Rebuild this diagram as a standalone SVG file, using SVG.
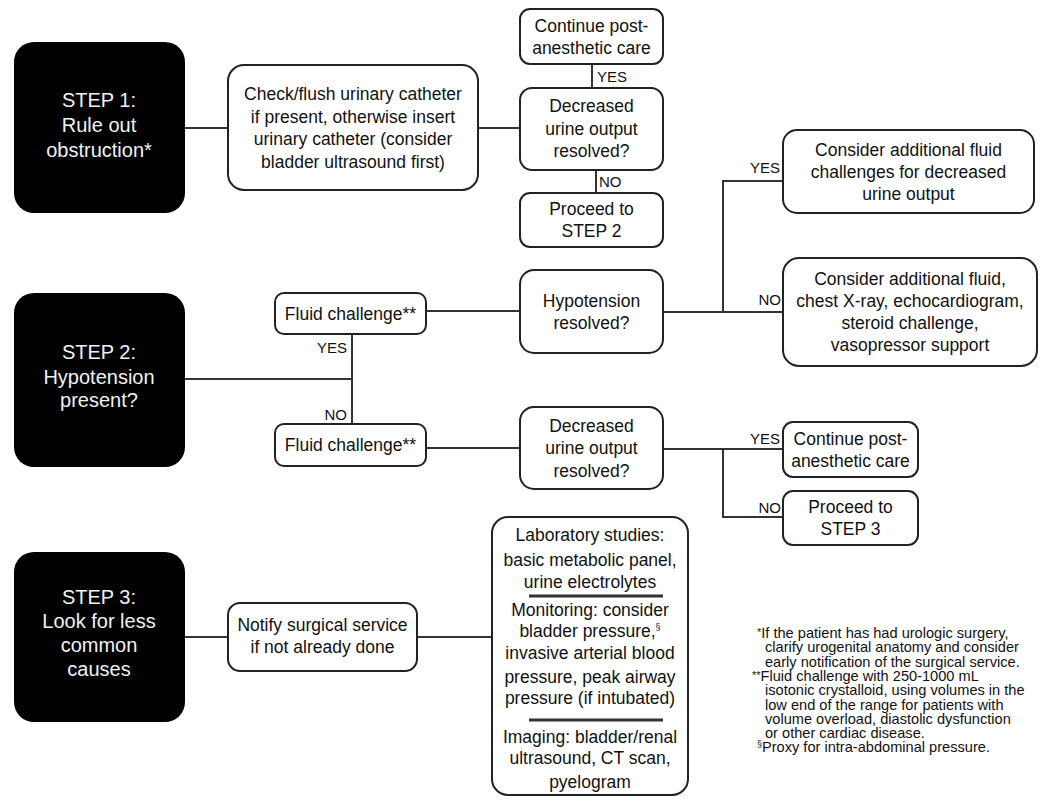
<svg xmlns="http://www.w3.org/2000/svg" width="1050" height="801" viewBox="0 0 1050 801">
<style>
text{font-family:"Liberation Sans",Arial,sans-serif;fill:#111;}
.b{fill:#fff;stroke:#222;stroke-width:2;}
.k{fill:#000;}
.t{font-size:17.5px;text-anchor:middle;}
.s{font-size:20px;text-anchor:middle;fill:#f2f2f2;}
.l{font-size:15px;}
.r{text-anchor:end;}
.f{font-size:14.6px;}
.c line,.c polyline{stroke:#333;stroke-width:2;fill:none;}
.sep{stroke:#333;stroke-width:3;}
</style>
<rect width="1050" height="801" fill="#fff"/>
<g class="c" id="connectors">
<line x1="184" y1="128" x2="228" y2="128"/>
<line x1="478" y1="128" x2="520" y2="128"/>
<line x1="592" y1="64" x2="592" y2="88"/>
<line x1="596" y1="170" x2="596" y2="193"/>
<line x1="184" y1="379" x2="352" y2="379"/>
<line x1="352" y1="334" x2="352" y2="424"/>
<line x1="426" y1="311" x2="520" y2="311"/>
<line x1="426" y1="448" x2="520" y2="448"/>
<line x1="663" y1="312" x2="783" y2="312"/>
<polyline points="723,312 723,181 783,181"/>
<line x1="663" y1="449" x2="783" y2="449"/>
<polyline points="723,449 723,517 783,517"/>
<line x1="184" y1="637" x2="228" y2="637"/>
<line x1="417" y1="637" x2="492" y2="637"/>
<text class="l" x="597" y="82">YES</text>
<text class="l" x="599" y="187">NO</text>
<text class="l r" x="347" y="353">YES</text>
<text class="l r" x="347" y="420">NO</text>
<text class="l r" x="780" y="173">YES</text>
<text class="l r" x="781" y="305">NO</text>
<text class="l r" x="780" y="444">YES</text>
<text class="l r" x="781" y="513">NO</text>
</g>
<g id="step1">
<rect class="k" x="14" y="42" width="171" height="171" rx="20"/>
<text class="s" x="99" y="107">STEP 1:</text>
<text class="s" x="99" y="132">Rule out</text>
<text class="s" x="99" y="157">obstruction*</text>
</g>
<g id="check">
<rect class="b" x="228" y="65" width="250" height="125" rx="16"/>
<text class="t" x="353" y="100">Check/flush urinary catheter</text>
<text class="t" x="353" y="122.5">if present, otherwise insert</text>
<text class="t" x="353" y="145">urinary catheter (consider</text>
<text class="t" x="353" y="168">bladder ultrasound first)</text>
</g>
<g id="cont1">
<rect class="b" x="520" y="9" width="143" height="55" rx="10"/>
<text class="t" x="591.5" y="31.5">Continue post-</text>
<text class="t" x="591.5" y="53.5">anesthetic care</text>
</g>
<g id="dec1">
<rect class="b" x="520" y="88" width="143" height="82" rx="12"/>
<text class="t" x="591.5" y="112">Decreased</text>
<text class="t" x="591.5" y="134.5">urine output</text>
<text class="t" x="591.5" y="157">resolved?</text>
</g>
<g id="proc2">
<rect class="b" x="520" y="193" width="143" height="54" rx="10"/>
<text class="t" x="591.5" y="215">Proceed to</text>
<text class="t" x="591.5" y="237">STEP 2</text>
</g>
<g id="addfluid">
<rect class="b" x="783" y="130" width="251" height="83" rx="14"/>
<text class="t" x="908.5" y="156">Consider additional fluid</text>
<text class="t" x="908.5" y="178">challenges for decreased</text>
<text class="t" x="908.5" y="200">urine output</text>
</g>
<g id="addmore">
<rect class="b" x="783" y="258" width="254" height="108" rx="16"/>
<text class="t" x="910" y="285">Consider additional fluid,</text>
<text class="t" x="910" y="307">chest X-ray, echocardiogram,</text>
<text class="t" x="910" y="329">steroid challenge,</text>
<text class="t" x="910" y="351">vasopressor support</text>
</g>
<g id="step2">
<rect class="k" x="14" y="293" width="171" height="174" rx="20"/>
<text class="s" x="99" y="359">STEP 2:</text>
<text class="s" x="99" y="384">Hypotension</text>
<text class="s" x="99" y="407">present?</text>
</g>
<g id="fluid1">
<rect class="b" x="275" y="293" width="151" height="41" rx="9"/>
<text class="t" x="350.5" y="319.5">Fluid challenge**</text>
</g>
<g id="fluid2">
<rect class="b" x="275" y="424" width="151" height="42" rx="9"/>
<text class="t" x="350.5" y="451">Fluid challenge**</text>
</g>
<g id="hypres">
<rect class="b" x="520" y="270" width="143" height="83" rx="14"/>
<text class="t" x="591.5" y="306.5">Hypotension</text>
<text class="t" x="591.5" y="328.5">resolved?</text>
</g>
<g id="dec2">
<rect class="b" x="520" y="407" width="143" height="82" rx="14"/>
<text class="t" x="591.5" y="431.5">Decreased</text>
<text class="t" x="591.5" y="454">urine output</text>
<text class="t" x="591.5" y="476.5">resolved?</text>
</g>
<g id="cont2">
<rect class="b" x="783" y="422" width="135" height="55" rx="10"/>
<text class="t" x="850.5" y="444.5">Continue post-</text>
<text class="t" x="850.5" y="466.5">anesthetic care</text>
</g>
<g id="proc3">
<rect class="b" x="783" y="491" width="135" height="54" rx="10"/>
<text class="t" x="850.5" y="513">Proceed to</text>
<text class="t" x="850.5" y="535">STEP 3</text>
</g>
<g id="step3">
<rect class="k" x="14" y="552" width="171" height="170" rx="20"/>
<text class="s" x="99" y="604">STEP 3:</text>
<text class="s" x="99" y="628">Look for less</text>
<text class="s" x="99" y="652">common</text>
<text class="s" x="99" y="676">causes</text>
</g>
<g id="notify">
<rect class="b" x="228" y="603" width="189" height="68" rx="12"/>
<text class="t" x="322.5" y="631">Notify surgical service</text>
<text class="t" x="322.5" y="653">if not already done</text>
</g>
<g id="studies">
<rect class="b" x="492" y="517" width="196" height="278" rx="16"/>
<text class="t" x="590" y="541">Laboratory studies:</text>
<text class="t" x="590" y="566">basic metabolic panel,</text>
<text class="t" x="590" y="588">urine electrolytes</text>
<line class="sep" x1="529" y1="596" x2="663" y2="596"/>
<text class="t" x="590" y="616">Monitoring: consider</text>
<text class="t" x="590" y="637">bladder pressure,<tspan font-size="9" dy="-7">§</tspan></text>
<text class="t" x="590" y="659">invasive arterial blood</text>
<text class="t" x="590" y="683">pressure, peak airway</text>
<text class="t" x="590" y="704">pressure (if intubated)</text>
<line class="sep" x1="529" y1="720" x2="663" y2="720"/>
<text class="t" x="590" y="743">Imaging: bladder/renal</text>
<text class="t" x="590" y="764">ultrasound, CT scan,</text>
<text class="t" x="590" y="788">pyelogram</text>
</g>
<g id="footnotes">
<text class="f" x="757" y="638"><tspan font-size="11" dy="-2">*</tspan><tspan dy="2">If the patient has had urologic surgery,</tspan></text>
<text class="f" x="765" y="652.3">clarify urogenital anatomy and consider</text>
<text class="f" x="765" y="666.6">early notification of the surgical service.</text>
<text class="f" x="752" y="680.9"><tspan font-size="11" dy="-2">**</tspan><tspan dy="2">Fluid challenge with 250-1000 mL</tspan></text>
<text class="f" x="765" y="695.2">isotonic crystalloid, using volumes in the</text>
<text class="f" x="765" y="709.5">low end of the range for patients with</text>
<text class="f" x="765" y="723.8">volume overload, diastolic dysfunction</text>
<text class="f" x="765" y="738.1">or other cardiac disease.</text>
<text class="f" x="757" y="752.4"><tspan font-size="9" dy="-5">§</tspan><tspan dy="5">Proxy for intra-abdominal pressure.</tspan></text>
</g>
</svg>
